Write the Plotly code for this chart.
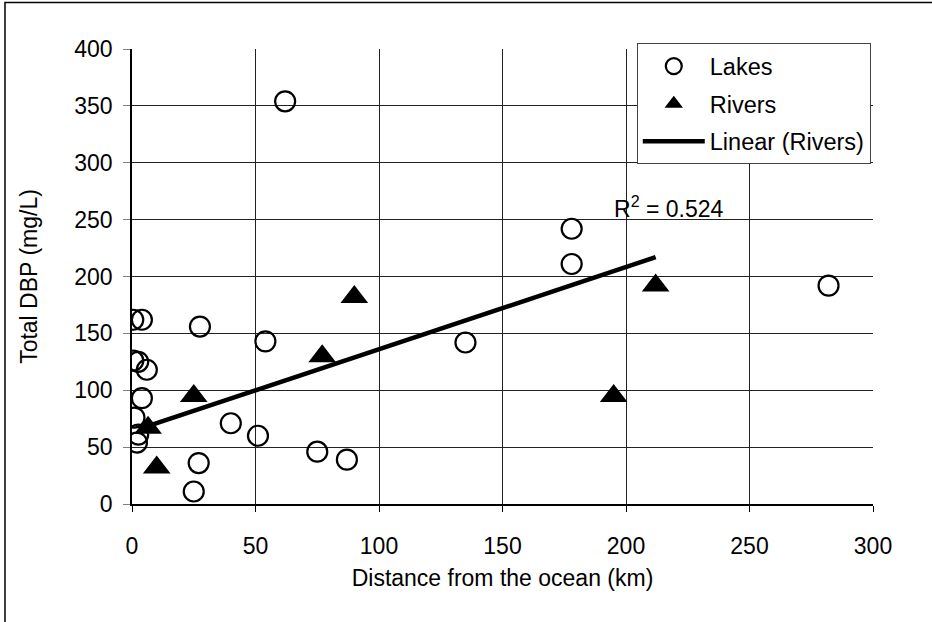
import plotly.graph_objects as go

# Lakes
lakes_x = [62, 178, 178, 282, 135, 54, 27.5, 40, 51, 75, 87, 27, 25,
           0.5, 4, 0.5, 2.5, 6, 4, 1, 2.5, 2, 213]
lakes_y = [354, 242, 211, 192, 142, 143, 156, 71, 60, 46, 39, 36, 11,
           162, 162, 126, 125, 118, 93, 76, 61, 54, 312]

# Rivers
rivers_x = [6.5, 10, 25, 77, 90, 195, 212]
rivers_y = [67, 32, 95, 130, 182, 95, 192]

# Linear trendline (Rivers), as drawn
trend_x = [3, 212]
trend_y = [66, 217]
r2_text = "R<sup>2</sup> = 0.524"

x_ticks = [0, 50, 100, 150, 200, 250, 300]
y_ticks = [0, 50, 100, 150, 200, 250, 300, 350, 400]

FONT = "Liberation Sans, Arial, sans-serif"

fig = go.Figure()
fig.add_trace(go.Scatter(
    x=lakes_x, y=lakes_y, mode="markers", name="Lakes",
    legendgroup="a",
    marker=dict(symbol="circle-open", size=20, color="black",
                line=dict(width=2.2, color="black")),
))
fig.add_trace(go.Scatter(
    x=rivers_x, y=rivers_y, mode="markers", name="Rivers",
    legendgroup="b",
    marker=dict(symbol="triangle-up", size=24, color="black"),
))
fig.add_trace(go.Scatter(
    x=trend_x, y=trend_y, mode="lines", name="Linear (Rivers)",
    legendgroup="c",
    line=dict(color="black", width=4.5),
))

fig.add_annotation(x=194.5, y=261, xref="x", yref="y", text=r2_text,
                   showarrow=False, xanchor="left", yanchor="middle",
                   font=dict(size=23, color="black", family=FONT))

# outer border of the chart area
fig.add_shape(type="rect", xref="paper", yref="paper",
              x0=-0.1714, x1=1.09, y0=-0.27, y1=1.102,
              line=dict(color="black", width=1.5), fillcolor="rgba(0,0,0,0)",
              layer="below")

fig.update_layout(
    width=932, height=622,
    margin=dict(l=132, r=59, t=49, b=118),
    paper_bgcolor="white", plot_bgcolor="white",
    font=dict(family=FONT, size=23, color="black"),
    showlegend=True,
    legend=dict(x=0.997, y=1.0125, xanchor="right", yanchor="top",
                bgcolor="white", bordercolor="#444", borderwidth=1,
                font=dict(size=23.5, family=FONT, color="black"),
                traceorder="grouped", tracegroupgap=4, itemwidth=62),
    xaxis=dict(range=[0, 300], tickvals=x_ticks, showgrid=True,
               gridcolor="#222", gridwidth=1, zeroline=False,
               showline=True, linecolor="black", linewidth=1.5,
               ticks="outside", ticklen=6, tickcolor="black",
               ticklabelstandoff=15,
               tickfont=dict(size=23),
               title=dict(text="Distance from the ocean (km)",
                          font=dict(size=23, family=FONT), standoff=12)),
    yaxis=dict(range=[0, 400], tickvals=y_ticks, showgrid=True,
               gridcolor="#222", gridwidth=1, zeroline=False,
               showline=True, linecolor="black", linewidth=1.5,
               ticks="outside", ticklen=7, tickcolor="gray",
               ticklabelstandoff=6,
               tickfont=dict(size=23),
               title=dict(text="Total DBP (mg/L)",
                          font=dict(size=23, family=FONT), standoff=30)),
)

fig.write_html("out.html")
